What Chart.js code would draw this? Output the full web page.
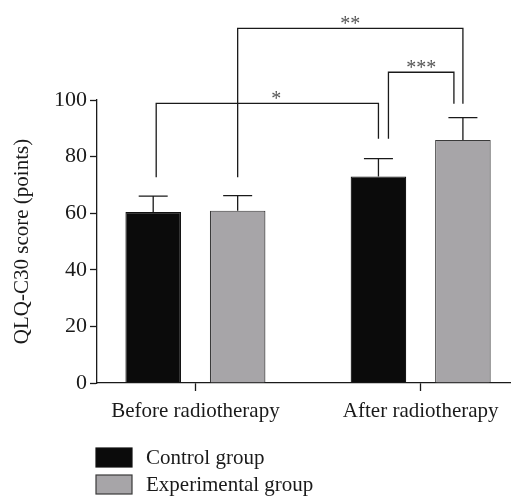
<!DOCTYPE html>
<html>
<head>
<meta charset="utf-8">
<script src="https://cdn.jsdelivr.net/npm/chart.js@4"></script>
<style>
  html, body { margin: 0; padding: 0; background: #fff; }
  #wrap { width: 511px; height: 496px; }
</style>
</head>
<body>
<div id="wrap"><canvas id="chart"></canvas></div>
<script>
// данные
const categories = ["Before radiotherapy", "After radiotherapy"];
const seriesNames = ["Control group", "Experimental group"];
const controlMeans = [60.4, 73.0];
const controlErr = [5.6, 6.3];
const experimentalMeans = [60.9, 85.9];
const experimentalErr = [5.3, 7.9];
const yTicks = [0, 20, 40, 60, 80, 100];

// значимость: [категория, серия] -> [категория, серия]
const compFrom = [[0, 0], [0, 1], [1, 0]];
const compTo = [[1, 0], [1, 1], [1, 1]];
const compTop = [98.8, 125.3, 109.8];
const compFromEnd = [72.7, 72.7, 86.3];
const compToEnd = [86.3, 98.7, 98.7];
const compLabels = ["*", "**", "***"];

const SERIF = "'Liberation Serif', 'DejaVu Serif', serif";
const INK = "#1a1a1a";

/** Погрешности, скобки значимости и легенда */
const extras = {
    id: "extras",
    afterDatasetsDraw(chart) {
        const ctx = chart.ctx;
        const y = chart.scales.y;
        const errs = [controlErr, experimentalErr];

        ctx.save();
        ctx.strokeStyle = INK;
        ctx.lineWidth = 1.3;

        // усы погрешности (только вверх)
        chart.data.datasets.forEach((ds, di) => {
            const meta = chart.getDatasetMeta(di);
            meta.data.forEach((bar, i) => {
                const top = y.getPixelForValue(ds.data[i].y + errs[di][i]);
                ctx.beginPath();
                ctx.moveTo(bar.x, bar.y);
                ctx.lineTo(bar.x, top);
                ctx.moveTo(bar.x - 14.5, top);
                ctx.lineTo(bar.x + 14.5, top);
                ctx.stroke();
            });
        });

        // скобки
        const barX = (c) => chart.getDatasetMeta(c[1]).data[c[0]].x;
        compLabels.forEach((label, k) => {
            let x1 = barX(compFrom[k]);
            let x2 = barX(compTo[k]);
            if (compFrom[k][0] === compTo[k][0]) { x1 += 10; x2 -= 9; }
            if (k === 0) x1 += 3;
            const yt = y.getPixelForValue(compTop[k]);
            ctx.beginPath();
            ctx.moveTo(x1, y.getPixelForValue(compFromEnd[k]));
            ctx.lineTo(x1, yt);
            ctx.lineTo(x2, yt);
            ctx.lineTo(x2, y.getPixelForValue(compToEnd[k]));
            ctx.stroke();

            ctx.fillStyle = "#555";
            ctx.font = "20px " + SERIF;
            ctx.textAlign = "center";
            ctx.textBaseline = "alphabetic";
            const shift = k === 0 ? 9 : 0;
            ctx.fillText(label, (x1 + x2) / 2 + shift, yt + 2);
        });

        // легенда
        chart.data.datasets.forEach((ds, di) => {
            const bx = 96, by = 448 + di * 27;
            ctx.fillStyle = ds.backgroundColor;
            ctx.fillRect(bx, by, 36, 19);
            ctx.strokeStyle = ds.borderColor;
            ctx.lineWidth = 1.2;
            ctx.strokeRect(bx, by, 36, 19);
            ctx.fillStyle = INK;
            ctx.font = "21px " + SERIF;
            ctx.textAlign = "left";
            ctx.textBaseline = "middle";
            ctx.fillText(ds.label, 146, by + 10);
        });
        ctx.restore();
    }
};

const ctx = document.getElementById("chart").getContext("2d");
new Chart(ctx, {
    type: "bar",
    data: {
        datasets: [
            {
                label: seriesNames[0],
                data: categories.map((c, i) => ({ x: i + 1, y: controlMeans[i] })),
                backgroundColor: "#0b0b0b",
                borderColor: "#111",
                borderWidth: 1.2
            },
            {
                label: seriesNames[1],
                data: categories.map((c, i) => ({ x: i + 1, y: experimentalMeans[i] })),
                backgroundColor: "#a7a5a8",
                borderColor: "#3a3a3a",
                borderWidth: 1.2
            }
        ]
    },
    options: {
        responsive: true,
        maintainAspectRatio: false,
        animation: false,
        categoryPercentage: 0.75,
        barPercentage: 0.658,
        layout: { padding: { top: 100, bottom: 73, left: 0, right: 0 } },
        plugins: {
            legend: { display: false },
            tooltip: { enabled: false }
        },
        scales: {
            x: {
                type: "linear",
                offset: false,
                min: 0.563,
                max: 2.401,
                afterBuildTicks: (s) => { s.ticks = categories.map((c, i) => ({ value: i + 1 })); },
                afterFit: (s) => { s.height = 40; },
                ticks: {
                    callback: (v) => categories[v - 1],
                    font: { family: SERIF, size: 21 },
                    color: INK,
                    padding: 8,
                    maxRotation: 0
                },
                grid: { offset: false, drawOnChartArea: false, tickLength: 8, color: INK, tickWidth: 1.3 },
                border: { color: INK, width: 1.3 }
            },
            y: {
                min: 0,
                max: 100,
                afterBuildTicks: (s) => { s.ticks = yTicks.map((v) => ({ value: v })); },
                afterFit: (s) => { s.width = 97; },
                ticks: {
                    font: { family: SERIF, size: 22 },
                    color: INK,
                    padding: 3
                },
                grid: { drawOnChartArea: false, tickLength: 7, color: INK, tickWidth: 1.3 },
                border: { color: INK, width: 1.3 },
                title: {
                    display: true,
                    text: "QLQ-C30 score (points)",
                    font: { family: SERIF, size: 21 },
                    color: INK,
                    padding: { top: 10, bottom: 0 }
                }
            }
        }
    },
    plugins: [extras]
});
</script>
</body>
</html>
